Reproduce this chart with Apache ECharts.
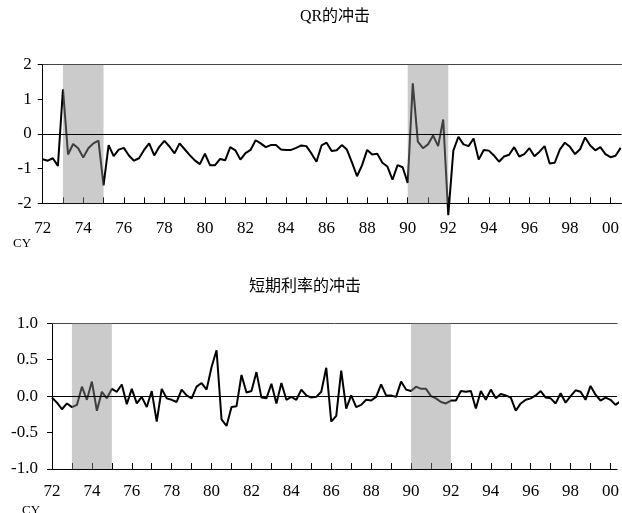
<!DOCTYPE html>
<html>
<head>
<meta charset="utf-8">
<script src="https://cdn.jsdelivr.net/npm/echarts@6/dist/echarts.min.js"></script>
<style>
  html, body { margin: 0; padding: 0; background: #fff; }
  #chart { width: 622px; height: 513px; }
</style>
</head>
<body>
<div id="chart"></div>
<script>
// Quarterly shocks, 1972Q1 onward
const startYear = 1972;
const qrShock = [
  -0.73, -0.77, -0.70, -0.92,   1.29, -0.59, -0.29, -0.41,
  -0.68, -0.41, -0.27, -0.19,  -1.48, -0.32, -0.64, -0.45,
  -0.40, -0.62, -0.77, -0.70,  -0.46, -0.27, -0.62, -0.37,
  -0.20, -0.36, -0.56, -0.27,  -0.44, -0.61, -0.76, -0.87,
  -0.57, -0.90, -0.90, -0.72,  -0.76, -0.38, -0.47, -0.74,
  -0.55, -0.46, -0.18, -0.27,  -0.38, -0.32, -0.32, -0.45,
  -0.46, -0.46, -0.40, -0.33,  -0.35, -0.56, -0.80, -0.33,
  -0.25, -0.49, -0.47, -0.32,  -0.45, -0.82, -1.22, -0.90,
  -0.46, -0.59, -0.57, -0.83,  -0.94, -1.32, -0.90, -0.96,
  -1.41,  1.46, -0.22, -0.41,  -0.30, -0.04, -0.35,  0.42,
  -2.34, -0.48, -0.08, -0.30,  -0.35, -0.13, -0.74, -0.46,
  -0.48, -0.62, -0.80, -0.65,  -0.60, -0.38, -0.65, -0.58,
  -0.41, -0.64, -0.51, -0.35,  -0.85, -0.83, -0.45, -0.25,
  -0.37, -0.58, -0.44, -0.10,  -0.33, -0.47, -0.38, -0.58,
  -0.67, -0.63, -0.40
];
const rateShock = [
  -0.02, -0.09, -0.18, -0.10,  -0.15, -0.12,  0.13, -0.05,
   0.20, -0.20,  0.06, -0.03,   0.10,  0.06,  0.16, -0.11,
   0.10, -0.10, -0.01, -0.15,   0.07, -0.35,  0.10, -0.03,
  -0.05, -0.08,  0.09,  0.01,  -0.03,  0.13,  0.18,  0.09,
   0.40,  0.63, -0.32, -0.41,  -0.15, -0.14,  0.29,  0.05,
   0.07,  0.33, -0.02, -0.03,   0.17, -0.10,  0.18, -0.05,
  -0.01, -0.05,  0.09,  0.01,  -0.02, -0.01,  0.06,  0.39,
  -0.35, -0.27,  0.35, -0.17,   0.01, -0.15, -0.12, -0.05,
  -0.06, -0.01,  0.16,  0.01,   0.01, -0.01,  0.20,  0.09,
   0.07,  0.13,  0.10,  0.10,   0.00, -0.03, -0.08, -0.10,
  -0.06, -0.06,  0.07,  0.06,   0.07, -0.17,  0.07, -0.05,
   0.09, -0.03,  0.03,  0.01,  -0.02, -0.20, -0.10, -0.05,
  -0.03,  0.01,  0.07, -0.02,  -0.03, -0.10,  0.04, -0.09,
   0.00,  0.08,  0.06, -0.05,   0.14,  0.02, -0.06, -0.02,
  -0.05, -0.12, -0.07
];
// Shaded periods (start year, end year)
const recessions = [[1973, 1975], [1990, 1992]];
// Axis ticks
const tickYears = [1972, 1973, 1974, 1975, 1976, 1977, 1978, 1979, 1980, 1981, 1982, 1983, 1984, 1985,
  1986, 1987, 1988, 1989, 1990, 1991, 1992, 1993, 1994, 1995, 1996, 1997, 1998, 1999, 2000];
const labelYears = [1972, 1974, 1976, 1978, 1980, 1982, 1984, 1986, 1988, 1990, 1992, 1994, 1996, 1998, 2000];
const titles = ['QR的冲击', '短期利率的冲击'];

const toPairs = arr => arr.map((v, i) => [startYear + i / 4, v]);
const yearLabel = v => String(Math.round(v) % 100).padStart(2, '0');

const FONT = "'Liberation Serif', 'Noto Sans CJK SC', serif";
const black = '#000';

function xAxes(grid, max, labelMargin) {
  return [
    {
      type: 'value', gridIndex: grid, min: startYear, max: max,
      position: 'bottom',
      axisLine: { show: true, onZero: false, lineStyle: { color: black, width: 1 } },
      axisTick: { show: true, inside: true, length: 6, customValues: tickYears, lineStyle: { color: black } },
      axisLabel: { customValues: labelYears, formatter: yearLabel, color: black,
        fontFamily: FONT, fontSize: 17, margin: labelMargin },
      splitLine: { show: false }
    },
    {
      type: 'value', gridIndex: grid, min: startYear, max: max,
      position: 'top',
      axisLine: { show: true, onZero: false, lineStyle: { color: '#444', width: 1 } },
      axisTick: { show: false }, axisLabel: { show: false }, splitLine: { show: false }
    }
  ];
}

function shockSeries(axisIdx, data, clip) {
  return {
    type: 'line', xAxisIndex: axisIdx, yAxisIndex: axisIdx / 2,
    data: toPairs(data), showSymbol: false, clip: clip,
    lineStyle: { color: black, width: 2 },
    z: 2,
    markArea: {
      silent: true, z: 3,
      itemStyle: { color: 'rgba(140,140,140,0.45)' },
      data: recessions.map(([a, b]) => [{ xAxis: a }, { xAxis: b }])
    },
    markLine: {
      silent: true, symbol: 'none', z: 4,
      label: { show: false },
      lineStyle: { color: black, width: 1, type: 'solid' },
      data: [{ yAxis: 0 }]
    }
  };
}

const chart = echarts.init(document.getElementById('chart'), null, { renderer: 'canvas' });
chart.setOption({
  animation: false,
  backgroundColor: '#fff',
  grid: [
    { left: 42.7, top: 64.7, right: 0, height: 138.6 },
    { left: 52, top: 323.3, right: 0, height: 145.7 }
  ],
  xAxis: [...xAxes(0, 2000.54, 17), ...xAxes(1, 2000.33, 14)],
  yAxis: [
    {
      type: 'value', gridIndex: 0, min: -2, max: 2, interval: 1,
      axisLine: { show: true, lineStyle: { color: black } },
      axisTick: { show: true, length: 5, lineStyle: { color: black } },
      axisLabel: { color: black, fontFamily: FONT, fontSize: 17, margin: 11 },
      splitLine: { show: false }
    },
    {
      type: 'value', gridIndex: 1, min: -1, max: 1, interval: 0.5,
      axisLine: { show: true, lineStyle: { color: black } },
      axisTick: { show: true, length: 5, lineStyle: { color: black } },
      axisLabel: { color: black, fontFamily: FONT, fontSize: 17, margin: 14,
        formatter: v => v.toFixed(1) },
      splitLine: { show: false }
    }
  ],
  series: [
    shockSeries(0, qrShock, false),
    shockSeries(2, rateShock, true)
  ],
  graphic: [
    { type: 'text', x: 335, y: 9, style: { text: titles[0], textAlign: 'center', textVerticalAlign: 'top',
        font: "16px " + FONT, fill: black } },
    { type: 'text', x: 305, y: 279, style: { text: titles[1], textAlign: 'center', textVerticalAlign: 'top',
        font: "16px " + FONT, fill: black } },
    { type: 'text', x: 13, y: 237, style: { text: 'CY', font: "13px " + FONT, fill: black } },
    { type: 'text', x: 22, y: 504, style: { text: 'CY', font: "13px " + FONT, fill: black } }
  ]
});
</script>
</body>
</html>
